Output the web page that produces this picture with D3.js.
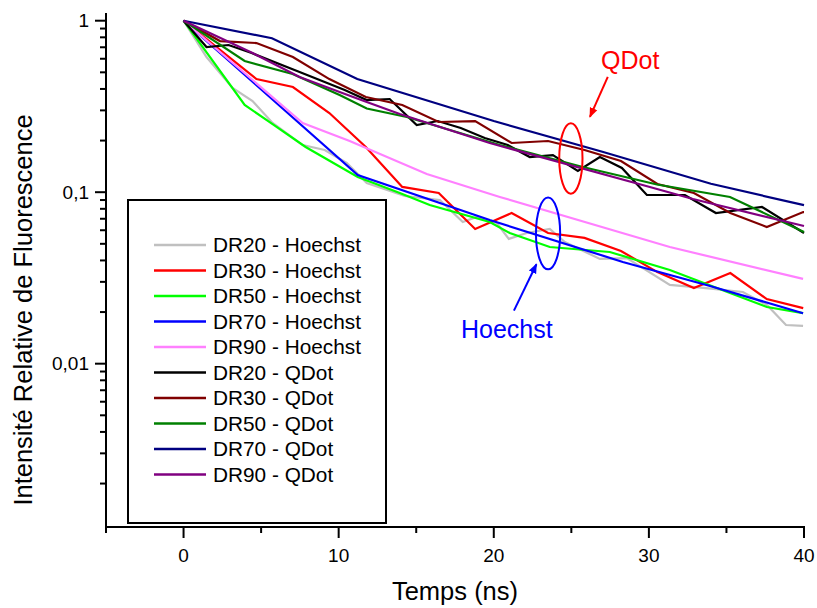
<!DOCTYPE html>
<html>
<head>
<meta charset="utf-8">
<script src="https://cdn.jsdelivr.net/npm/d3@7"></script>
<style>
  html, body { margin: 0; padding: 0; background: #fff; }
  svg { display: block; font-family: Arial, "Liberation Sans", sans-serif; }
</style>
</head>
<body>
<svg id="chart" width="817" height="608"></svg>
<script>
// ---------- data ----------
const seriesNames = [
  "DR20 - Hoechst", "DR30 - Hoechst", "DR50 - Hoechst", "DR70 - Hoechst", "DR90 - Hoechst",
  "DR20 - QDot", "DR30 - QDot", "DR50 - QDot", "DR70 - QDot", "DR90 - QDot"
];
const seriesColors = [
  "#c0c0c0", "#ff0000", "#00ff00", "#0000ff", "#ff80ff",
  "#000000", "#800000", "#008000", "#000080", "#800080"
];

// time (ns) / relative intensity
const dr20HoechstX = [0, 1.48, 3.16, 4.45, 5.74, 7.68, 9.1, 10.52, 11.81, 14.26, 16.52, 18.0, 18.9, 20.19, 20.97, 22.13, 23.61, 24.58, 26.84, 28.58, 31.35, 33.68, 36.06, 37.61, 38.84, 39.94];
const dr20HoechstY = [1, 0.614, 0.405, 0.340, 0.2532, 0.1884, 0.1762, 0.148, 0.1132, 0.095, 0.090, 0.067, 0.0717, 0.0661, 0.0534, 0.0578, 0.061, 0.0512, 0.0408, 0.0413, 0.0288, 0.0276, 0.0262, 0.022, 0.0168, 0.0166];

const dr30HoechstX = [0, 2.35, 4.7, 7.05, 9.4, 11.75, 14.1, 16.45, 18.8, 21.15, 23.5, 25.85, 28.2, 30.55, 32.9, 35.25, 37.6, 39.95];
const dr30HoechstY = [1, 0.675, 0.4566, 0.4107, 0.2896, 0.1835, 0.1073, 0.0989, 0.061, 0.0756, 0.0578, 0.0541, 0.0454, 0.0342, 0.0276, 0.0338, 0.0238, 0.0211];

const dr50HoechstX = [0, 3.94, 5.74, 7.87, 11.23, 13.94, 15.87, 19.74, 21.03, 23.61, 27.48, 31.35, 35.23, 37.61, 39.94];
const dr50HoechstY = [1, 0.3225, 0.2497, 0.1835, 0.1227, 0.0989, 0.0842, 0.067, 0.0578, 0.0479, 0.0448, 0.0352, 0.0258, 0.0214, 0.0197];

const dr70HoechstX = [0, 11.23, 19.74, 28.32, 33.94, 39.94];
const dr70HoechstY = [1, 0.126, 0.0688, 0.0392, 0.0284, 0.0197];

const dr90HoechstX = [0, 7.68, 10.71, 15.68, 20.39, 31.35, 39.94];
const dr90HoechstY = [1, 0.2532, 0.1988, 0.1277, 0.0938, 0.0479, 0.0312];

const dr20QDotX = [0, 1.48, 2.9, 4.39, 7.48, 10.39, 11.81, 13.29, 15.03, 16.39, 17.87, 19.42, 20.9, 22.32, 23.81, 25.42, 26.84, 28.26, 29.87, 32.32, 34.32, 37.29, 40.0];
const dr20QDotY = [1, 0.7025, 0.7217, 0.648, 0.5022, 0.3943, 0.3447, 0.3494, 0.2465, 0.260, 0.2367, 0.207, 0.1884, 0.1604, 0.1647, 0.1329, 0.1604, 0.1384, 0.0963, 0.0963, 0.0756, 0.0820, 0.0578];

const dr30QDotX = [0, 2.35, 4.7, 7.05, 9.4, 11.75, 14.1, 16.45, 18.8, 21.15, 23.5, 25.85, 28.2, 30.55, 32.9, 35.25, 37.6, 39.95, 40.0];
const dr30QDotY = [1, 0.761, 0.741, 0.614, 0.4566, 0.359, 0.3225, 0.2567, 0.260, 0.1936, 0.1988, 0.1762, 0.152, 0.1116, 0.0989, 0.0756, 0.0627, 0.0766, 0.0766];

const dr50QDotX = [0, 3.94, 7.03, 10.06, 11.81, 14.39, 20.39, 25.74, 30.52, 35.23, 40.0];
const dr50QDotY = [1, 0.582, 0.4889, 0.3688, 0.3076, 0.2745, 0.1884, 0.1403, 0.1109, 0.0938, 0.0586];

const dr70QDotX = [0, 5.7, 11.2, 20.0, 27.0, 34.0, 40.0];
const dr70QDotY = [1, 0.79, 0.457, 0.26, 0.172, 0.112, 0.084];

const dr90QDotX = [0, 4.45, 7.48, 10.06, 11.81, 13.94, 19.74, 30.06, 32.84, 40.0];
const dr90QDotY = [1, 0.648, 0.4696, 0.3839, 0.3356, 0.2858, 0.1936, 0.1073, 0.0912, 0.0635];

const seriesX = [dr20HoechstX, dr30HoechstX, dr50HoechstX, dr70HoechstX, dr90HoechstX,
                 dr20QDotX, dr30QDotX, dr50QDotX, dr70QDotX, dr90QDotX];
const seriesY = [dr20HoechstY, dr30HoechstY, dr50HoechstY, dr70HoechstY, dr90HoechstY,
                 dr20QDotY, dr30QDotY, dr50QDotY, dr70QDotY, dr90QDotY];

const xMajorTicks = [0, 10, 20, 30, 40];
const xMinorTicks = [-5, 5, 15, 25, 35];
const yMajorTicks = [1, 0.1, 0.01];
const yMajorLabels = ["1", "0,1", "0,01"];

const xTitle = "Temps (ns)";
const yTitle = "Intensité Relative de Fluorescence";

// annotations (data coordinates)
const qdotLabel = { text: "QDot", x: 28.8, y: 0.52, color: "#ff0000" };
const qdotArrow = { x1: 27.35, y1: 0.47, x2: 26.2, y2: 0.275 };
const qdotEllipse = { x: 24.97, yTop: 0.252, yBottom: 0.098, halfWidthNs: 0.75 };
const hoechstLabel = { text: "Hoechst", x: 20.84, y: 0.0141, color: "#0000ff" };
const hoechstArrow = { x1: 21.3, y1: 0.0204, x2: 22.75, y2: 0.038 };
const hoechstEllipse = { x: 23.5, yTop: 0.093, yBottom: 0.0355, halfWidthNs: 0.78 };

// ---------- chart ----------
const svg = d3.select("#chart");
const x = d3.scaleLinear().domain([-5, 40]).range([106, 804]);
const y = d3.scaleLog().domain([0.001116, 1.109]).range([527, 13]);

// data lines
const line = d3.line().x(d => x(d[0])).y(d => y(d[1]));
seriesNames.forEach((name, i) => {
  const pts = seriesX[i].map((v, j) => [v, seriesY[i][j]]);
  svg.append("path")
    .datum(pts)
    .attr("d", line)
    .attr("fill", "none")
    .attr("stroke", seriesColors[i])
    .attr("stroke-width", 2.2)
    .attr("stroke-linejoin", "miter");
});

// axes
const axisG = svg.append("g").attr("stroke", "#000");
axisG.append("line").attr("x1", 106).attr("x2", 106).attr("y1", y.range()[1]).attr("y2", y.range()[0]).attr("stroke-width", 2);
axisG.append("line").attr("x1", x.range()[0] - 1).attr("x2", x.range()[1] + 1).attr("y1", 527).attr("y2", 527).attr("stroke-width", 2);

// y ticks
const yMinor = [];
[0.001, 0.01, 0.1].forEach(dec => {
  for (let k = 2; k <= 9; k++) {
    const v = dec * k;
    if (v >= y.domain()[0] && v <= y.domain()[1]) yMinor.push(v);
  }
});
yMinor.forEach(v => {
  axisG.append("line").attr("x1", 100).attr("x2", 106).attr("y1", y(v)).attr("y2", y(v)).attr("stroke-width", 2);
});
yMajorTicks.forEach((v, i) => {
  axisG.append("line").attr("x1", 95).attr("x2", 106).attr("y1", y(v)).attr("y2", y(v)).attr("stroke-width", 2);
  svg.append("text").attr("x", 89).attr("y", y(v)).attr("dy", "0.35em")
    .attr("text-anchor", "end").attr("font-size", 19).text(yMajorLabels[i]);
});

// x ticks
xMinorTicks.forEach(v => {
  axisG.append("line").attr("x1", x(v)).attr("x2", x(v)).attr("y1", 527).attr("y2", 533).attr("stroke-width", 2);
});
xMajorTicks.forEach(v => {
  axisG.append("line").attr("x1", x(v)).attr("x2", x(v)).attr("y1", 527).attr("y2", 538).attr("stroke-width", 2);
  svg.append("text").attr("x", x(v)).attr("y", 562)
    .attr("text-anchor", "middle").attr("font-size", 19).text(v);
});

// axis titles
svg.append("text").attr("x", 455).attr("y", 600).attr("text-anchor", "middle")
  .attr("font-size", 25.5).text(xTitle);
svg.append("text").attr("transform", "translate(32,310) rotate(-90)")
  .attr("text-anchor", "middle").attr("font-size", 25.5).text(yTitle);

// legend
const lg = svg.append("g");
lg.append("rect").attr("x", 128).attr("y", 200).attr("width", 258).attr("height", 323)
  .attr("fill", "#fff").attr("stroke", "#000").attr("stroke-width", 2);
seriesNames.forEach((name, i) => {
  const ly = 245 + i * 25.5;
  lg.append("line").attr("x1", 154).attr("x2", 206).attr("y1", ly).attr("y2", ly)
    .attr("stroke", seriesColors[i]).attr("stroke-width", 2.5);
  lg.append("text").attr("x", 213).attr("y", ly).attr("dy", "0.36em")
    .attr("font-size", 20.8).text(name);
});

// annotations
const defs = svg.append("defs");
[["arrRed", "#ff0000"], ["arrBlue", "#0000ff"]].forEach(([id, c]) => {
  defs.append("marker").attr("id", id).attr("viewBox", "0 0 10 10")
    .attr("refX", 9).attr("refY", 5).attr("markerWidth", 5).attr("markerHeight", 5)
    .attr("markerUnits", "strokeWidth").attr("orient", "auto")
    .append("path").attr("d", "M0,1 L10,5 L0,9 Z").attr("fill", c);
});

function drawEllipse(e, color) {
  const cy = (y(e.yTop) + y(e.yBottom)) / 2;
  const ry = (y(e.yBottom) - y(e.yTop)) / 2;
  const rx = x(e.x + e.halfWidthNs) - x(e.x);
  svg.append("ellipse").attr("cx", x(e.x)).attr("cy", cy).attr("rx", rx).attr("ry", ry)
    .attr("fill", "none").attr("stroke", color).attr("stroke-width", 2);
}
drawEllipse(qdotEllipse, "#ff0000");
drawEllipse(hoechstEllipse, "#0000ff");

svg.append("line").attr("x1", x(qdotArrow.x1)).attr("y1", y(qdotArrow.y1))
  .attr("x2", x(qdotArrow.x2)).attr("y2", y(qdotArrow.y2))
  .attr("stroke", "#ff0000").attr("stroke-width", 2).attr("marker-end", "url(#arrRed)");
svg.append("line").attr("x1", x(hoechstArrow.x1)).attr("y1", y(hoechstArrow.y1))
  .attr("x2", x(hoechstArrow.x2)).attr("y2", y(hoechstArrow.y2))
  .attr("stroke", "#0000ff").attr("stroke-width", 2).attr("marker-end", "url(#arrBlue)");

svg.append("text").attr("x", x(qdotLabel.x)).attr("y", y(qdotLabel.y)).attr("text-anchor", "middle")
  .attr("font-size", 25).attr("fill", qdotLabel.color).text(qdotLabel.text);
svg.append("text").attr("x", x(hoechstLabel.x)).attr("y", y(hoechstLabel.y)).attr("text-anchor", "middle")
  .attr("font-size", 25).attr("fill", hoechstLabel.color).text(hoechstLabel.text);
</script>
</body>
</html>
